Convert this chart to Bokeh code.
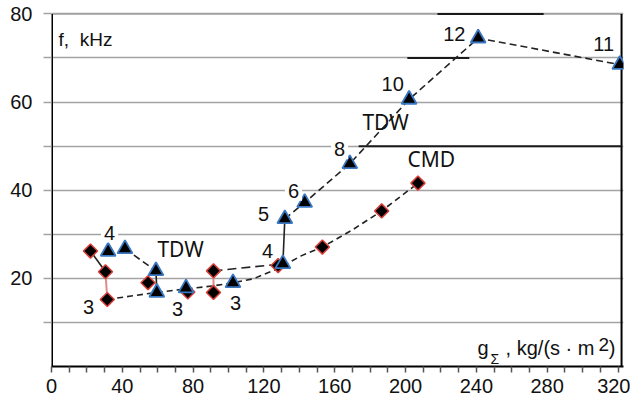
import math
from bokeh.plotting import figure
from bokeh.models import Range1d, FixedTicker, Label
from bokeh.embed import file_html
from bokeh.resources import INLINE

# ---------------- data ----------------
# TDW points (triangles)
tdw_x = [32, 41.5, 59, 59.5, 76, 102.5, 130.7, 131.8, 143, 168.5, 202, 241, 321]
tdw_y = [26.1, 26.7, 21.7, 16.8, 17.8, 19.0, 23.3, 33.5, 37.2, 46.0, 60.6, 74.5, 68.5]

# CMD points (diamonds)
cmd_x = [22, 30.5, 31.5, 54.5, 77, 91.5, 91.5, 128, 153, 186.5, 207]
cmd_y = [26.2, 21.5, 15.2, 19.0, 16.9, 21.7, 16.8, 22.9, 27.1, 35.3, 41.6]

# CMD dashed trend
cmd_curve_x = [31.5, 45, 59.5, 76, 91.5, 102.5, 114, 128, 141, 153, 170, 186.5, 207]
cmd_curve_y = [15.2, 16.0, 16.8, 17.6, 18.3, 19.0, 19.9, 22.2, 25.1, 27.1, 31.0, 35.3, 41.6]

# TDW dashed paths
tdw_up_x = [131.8, 143, 168.5, 202, 241, 321]
tdw_up_y = [33.5, 37.2, 46.0, 60.6, 74.5, 68.5]
tdw_left_x = [41.5, 59]
tdw_left_y = [26.7, 21.7]
tdw_mid_x = [91.5, 130.7]
tdw_mid_y = [21.7, 23.3]

# solid connectors
solid_x0 = [59, 130.7, 22]
solid_y0 = [21.7, 23.3, 26.2]
solid_x1 = [59.5, 131.8, 30.5]
solid_y1 = [16.8, 33.5, 21.5]
pink_x0 = [30.5, 91.5]
pink_y0 = [21.5, 21.7]
pink_x1 = [31.5, 91.5]
pink_y1 = [15.2, 16.8]

# dark grid-line fragments
dark_x0 = [218, 201, 173.5]
dark_x1 = [278, 236, 322]
dark_y = [80, 70, 50]

# frame lines
border_x = [322, 322]
border_y = [0, 80]
top_x = [-4.5, 322]
top_y = [80, 80]

# point labels
num_text = ["4", "3", "3", "3", "4", "5", "6", "8", "10", "12", "11"]
num_x = [32.8, 20.9, 71.2, 104, 122, 119.8, 136.7, 162.7, 192.7, 227.5, 311.9]
num_y = [30.4, 13.6, 13.1, 14.5, 26.3, 34.7, 39.9, 49.3, 64.0, 75.4, 73.1]
num_bg = [True, False, True, False, False, False, True, True, False, False, False]

name_text = ["TDW", "TDW", "CMD"]
name_x = [72.9, 188.7, 214.5]
name_y = [26.7, 55.4, 47.0]

x_ticks = list(range(0, 330, 10))
x_tick_labels = {t: (str(t) if t % 40 == 0 else "") for t in x_ticks}
y_ticks = [10, 20, 30, 40, 50, 60, 70, 80]
y_tick_labels = {10: "", 20: "20", 30: "", 40: "40", 50: "", 60: "60", 70: "", 80: "80"}

GRID = "#a3a3a3"

p = figure(width=630, height=402, output_backend="svg", toolbar_location=None,
           x_range=Range1d(0, 323.1), y_range=Range1d(0, 81),
           min_border_left=51, min_border_right=7, min_border_top=9, min_border_bottom=36)
p.outline_line_color = None
p.background_fill_color = "white"
p.border_fill_color = "white"

p.xgrid.visible = False
p.ygrid.ticker = FixedTicker(ticks=y_ticks)
p.ygrid.grid_line_color = GRID
p.ygrid.grid_line_width = 1.6

xa = p.xaxis[0]
xa.ticker = FixedTicker(ticks=x_ticks)
xa.major_label_overrides = x_tick_labels
xa.axis_line_color = "black"
xa.axis_line_width = 2
xa.major_tick_in = 0
xa.major_tick_out = 6
xa.major_tick_line_color = "#555555"
xa.major_tick_line_width = 1.5
xa.minor_tick_line_color = None
xa.major_label_standoff = 6
xa.major_label_text_font = "Liberation Sans"
xa.major_label_text_font_size = "20px"
xa.major_label_text_color = "#111111"

ya = p.yaxis[0]
ya.ticker = FixedTicker(ticks=y_ticks)
ya.major_label_overrides = y_tick_labels
ya.axis_line_color = None
ya.major_tick_in = 0
ya.major_tick_out = 8
ya.major_tick_line_color = GRID
ya.major_tick_line_width = 1.6
ya.minor_tick_line_color = None
ya.major_label_standoff = 11
ya.major_label_text_font = "Liberation Sans"
ya.major_label_text_font_size = "20px"
ya.major_label_text_color = "#111111"

# top gridline, left axis line (only up to 80) and right border
p.line(x=top_x, y=top_y, line_color=GRID, line_width=1.8)
p.line(x=[0, 0], y=border_y, line_color="black", line_width=3)
p.line(x=border_x, y=border_y, line_color="black", line_width=2)

# dark fragments
p.segment(x0=dark_x0, y0=dark_y, x1=dark_x1, y1=dark_y, line_color="#1a1a1a", line_width=2)

# lines
p.line(cmd_curve_x, cmd_curve_y, line_color="#222222", line_width=1.6, line_dash="6 4")
p.line(tdw_up_x, tdw_up_y, line_color="#222222", line_width=1.6, line_dash="7 4")
p.line(tdw_left_x, tdw_left_y, line_color="#222222", line_width=1.6, line_dash="7 4")
p.line(tdw_mid_x, tdw_mid_y, line_color="#222222", line_width=1.6, line_dash="9 5")
p.segment(x0=solid_x0, y0=solid_y0, x1=solid_x1, y1=solid_y1, line_color="#222222", line_width=1.6)
p.segment(x0=pink_x0, y0=pink_y0, x1=pink_x1, y1=pink_y1, line_color="#e08a8a", line_width=2)

# markers
p.scatter(cmd_x, cmd_y, marker="square", angle=math.pi / 4, size=10, fill_color="black",
          line_color="#d9403a", line_width=1.5)
p.scatter(tdw_x, tdw_y, marker="triangle", size=15, fill_color="black",
          line_color="#3b78c4", line_width=1.8)

# labels
for t, x, y, bg in zip(num_text, num_x, num_y, num_bg):
    p.add_layout(Label(x=x, y=y, text=t, text_align="center", text_baseline="middle",
                       text_font="Liberation Sans", text_font_size="20px", text_color="#111111",
                       background_fill_color="white" if bg else None, padding=3))
for t, x, y in zip(name_text, name_x, name_y):
    p.add_layout(Label(x=x, y=y, text=t, text_align="center", text_baseline="middle",
                       text_font="Noto Sans", text_font_size="21px", text_color="#111111"))

# axis titles
p.add_layout(Label(x=4, y=74.3, text="f,\u00a0\u00a0kHz", text_align="left", text_baseline="alphabetic",
                   text_font="Liberation Sans", text_font_size="19px", text_color="#111111"))
p.add_layout(Label(x=240.7, y=4.1, text="g", text_align="left", text_baseline="alphabetic",
                   text_font="Liberation Sans", text_font_size="20px", text_color="#111111"))
p.add_layout(Label(x=248, y=1.6, text="\u03a3", text_align="left", text_baseline="alphabetic",
                   text_font="Liberation Sans", text_font_size="14px", text_color="#111111"))
p.add_layout(Label(x=256.5, y=4.1, text=", kg/(s \u00b7 m", text_align="left", text_baseline="alphabetic",
                   text_font="Liberation Sans", text_font_size="20px", text_color="#111111"))
p.add_layout(Label(x=309, y=5.0, text="2", text_align="left", text_baseline="alphabetic",
                   text_font="Liberation Sans", text_font_size="19px", text_color="#111111"))
p.add_layout(Label(x=314.7, y=4.1, text=")", text_align="left", text_baseline="alphabetic",
                   text_font="Liberation Sans", text_font_size="20px", text_color="#111111"))

open("out.html", "w").write(file_html(p, INLINE))
